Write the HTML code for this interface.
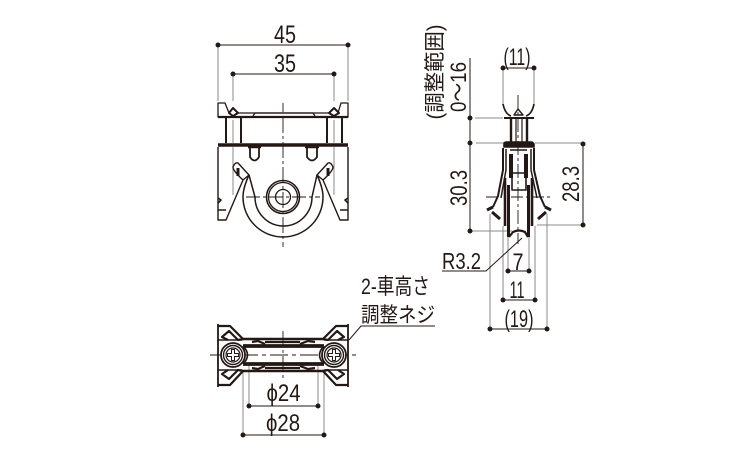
<!DOCTYPE html>
<html><head><meta charset="utf-8"><style>
html,body{margin:0;padding:0;background:#fff}
svg{display:block}
text{font-family:"Liberation Sans","Noto Sans CJK JP",sans-serif;fill:#231815}
</style></head><body>
<svg width="750" height="450" viewBox="0 0 750 450" xmlns="http://www.w3.org/2000/svg">
<defs>
<g id="screw">
<circle r="12" fill="#fff" stroke="#231815" stroke-width="1.8"/>
<circle r="9.500" fill="none" stroke="#231815" stroke-width="1.400"/>
<circle r="7" fill="none" stroke="#231815" stroke-width="1.200"/>
<path d="M-5.500 -1.500H-1.500V-5.500H1.500V-1.500H5.500V1.500H1.500V5.500H-1.500V1.500H-5.500Z" fill="#fff" stroke="#231815" stroke-width="1"/>
</g>
</defs>

<!-- grey extension lines -->
<g stroke="#8c8a88" stroke-width="1" fill="none">
<path d="M218 45V101M348 45V101M233 74V101M334 74V101"/>
<path d="M233 120V143M334 120V143M233 147V195M334 147V195"/>
<path d="M249 364V406M318 364V406M243 371V435M324 371V435"/>
<path d="M503 68V104M534 68V104"/>
<path d="M475 118H503M476 143H503M535 143H583M537 225H583M472 231H512"/>
<path d="M508 232V271M529 232V271M503 226V300M535 226V300M490 214V329M547 214V329"/>
</g>

<!-- black dimension lines -->
<g stroke="#231815" stroke-width="1" fill="none">
<path d="M218 45H348M233 74H334M249 406H318M243 435H324M503 68H534"/>
<path d="M470 58V231M583 144V225M508 271H529M503 300H535M490 329H547"/>
<path d="M442 271H486L522 238M435 326H361L349 340" stroke-width="1"/>
</g>
<g fill="#231815">
<circle cx="218" cy="45" r="2.500"/><circle cx="348" cy="45" r="2.500"/>
<circle cx="233" cy="74" r="2.500"/><circle cx="334" cy="74" r="2.500"/>
<circle cx="249" cy="406" r="2.500"/><circle cx="318" cy="406" r="2.500"/>
<circle cx="243" cy="435" r="2.500"/><circle cx="324" cy="435" r="2.500"/>
<circle cx="503" cy="68" r="2.500"/><circle cx="534" cy="68" r="2.500"/>
<circle cx="470" cy="118" r="2.500"/><circle cx="470" cy="143" r="2.500"/><circle cx="470" cy="231" r="2.500"/>
<circle cx="583" cy="144" r="2.500"/><circle cx="583" cy="225" r="2.500"/>
<circle cx="508" cy="271" r="2.500"/><circle cx="529" cy="271" r="2.500"/>
<circle cx="503" cy="300" r="2.500"/><circle cx="535" cy="300" r="2.500"/>
<circle cx="490" cy="329" r="2.500"/><circle cx="547" cy="329" r="2.500"/>
</g>

<!-- FRONT VIEW -->
<g fill="none" stroke="#231815" stroke-linejoin="round">
<path d="M283 103V112M283 117V247" stroke-width=".9" stroke-dasharray="16 3 3 3"/>
<path d="M246 197H320" stroke-width=".9" stroke-dasharray="14 3 3 3"/>
<path d="M218 117V103H225L229 113H237L239 113H328L338 113L341 103H348V117Z" stroke-width="1.300"/>
<path d="M218 117H348" stroke-width="2.200"/>
<path d="M253 116L255 113H313L315 116" stroke-width="1.300"/>
<path d="M229 113L233 108L238 113L233 116Z" stroke-width="2" fill="#fff"/>
<path d="M329 113L334 108L339 113L334 116Z" stroke-width="2" fill="#fff"/>
<path d="M226 118V143M241 118V143M327 118V143M342 118V143" stroke-width="2"/>
<path d="M218 145H348" stroke-width="3.400"/>
<path d="M218 147V220H226L243 180L249 175L238 163Q235 162 233 167Q233 171 243 180M348 147V220H340L323 180L317 175L328 163Q331 162 333 167Q333 171 323 180" stroke-width="1.400"/>
<path d="M250 147V157Q254.500 164 259 157V147M307 147V157Q312 164 317 157V147" stroke-width="1.800"/>
<path d="M248 147H261M305 147H319" stroke-width="2.400"/>
<path d="M238 176V168M328 176V168" stroke-width="3"/>
<path d="M243 197A40 40 0 0 0 323 197Q323 188 317 175M243 197Q243 188 249 175" stroke-width="1.500"/>
<path d="M249 175L255 197A28.500 29 0 0 0 312 197L317 175" stroke-width="1.500"/>
<circle cx="283" cy="197" r="16.500" stroke-width="1.600"/>
<circle cx="283" cy="197" r="14.500" stroke-width="1.300"/>
<circle cx="283" cy="197" r="7.500" stroke-width="1.300"/>
<path d="M218 198L221 200L218 203M348 198L345 200L348 203" stroke-width="1.600"/>
<path d="M218 210H226M348 210H340" stroke-width="1.400"/>
</g>

<!-- BOTTOM VIEW -->
<g fill="none" stroke="#231815" stroke-linejoin="round">
<path d="M210 355H357" stroke-width=".9" stroke-dasharray="18 4 4 4"/>
<path d="M283 331V379" stroke-width=".9" stroke-dasharray="16 3 3 3"/>
<path d="M218 324V387M348 324V387" stroke-width="1.800"/>
<path d="M218 340H242M348 340H324M218 370H242M348 370H324" stroke-width="1.600"/>
<path d="M242 339H324M242 371H324" stroke-width="2.400"/>
<path d="M218 326H230L243 339L238 340L229 331L222 337L228 340M348 326H336L323 339L328 340L337 331L344 337L338 340" stroke-width="2.200"/>
<path d="M218 385H230L243 371L238 370L229 379L222 374L228 370M348 385H336L323 371L328 370L337 379L344 374L338 370" stroke-width="2.200"/>
<path d="M243 346H324M243 364H324" stroke-width="3.800"/>
<path d="M252 342L258 341L265 344M300 344L308 341L315 342M252 368L258 369L265 366M300 366L308 369L315 368" stroke-width="2.200"/>
<path d="M265 342H300M265 368H300" stroke-width="2.200"/>
<path d="M243 346Q252 355 243 364M324 346Q315 355 324 364" stroke-width="1.600"/>
<use href="#screw" x="233" y="355"/>
<use href="#screw" x="334" y="355"/>
</g>

<!-- SIDE VIEW -->
<g fill="none" stroke="#231815" stroke-linejoin="round">
<path d="M518 95V244" stroke-width=".9" stroke-dasharray="14 3 3 3"/>
<path d="M486 197H499M511 197H551" stroke-width=".9" stroke-dasharray="12 3 3 3"/>
<path d="M503 104Q505 114 511 116M534 104Q532 114 526 116" stroke-width="1.700"/>
<path d="M504 118H534" stroke-width="2"/>
<path d="M514 115L518 109L523 115Z" stroke-width="1.400"/>
<path d="M511 118V143M527 118V143" stroke-width="2.400"/>
<path d="M516 118V143M522 118V143" stroke-width="1.200"/>
<path d="M504 147V143L506 142H532L534 144V147Z" stroke-width="1.600" fill="#231815"/>
<path d="M503 148V170L498 196L493 207M534 148V170L540 196L545 207" stroke-width="2"/>
<path d="M487 210L493 207M551 210L545 207" stroke-width="3"/>
<path d="M492 212L500 219M546 212L538 219" stroke-width="3"/>
<path d="M506 149V170L501 198M531 149V170L537 198" stroke-width="1.500"/>
<path d="M505 178V226M532 178V226" stroke-width="2.600"/>
<path d="M511 154V178M526 154V178" stroke-width="4"/>
<path d="M510 150H527" stroke-width="1.600"/>
<path d="M512 172V190H526V172M512 173H526" stroke-width="1.600"/>
<path d="M508.500 185V237M528.500 185V237" stroke-width="3"/>
<path d="M509 237L513 232Q519 229 525 232L528 237" stroke-width="2.200"/>
</g>

<!-- TEXT -->
<text x="285" y="43" font-size="25" text-anchor="middle" textLength="22" lengthAdjust="spacingAndGlyphs">45</text>
<text x="285" y="72" font-size="25" text-anchor="middle" textLength="22" lengthAdjust="spacingAndGlyphs">35</text>
<text x="283.500" y="401" font-size="24" text-anchor="middle" textLength="34" lengthAdjust="spacingAndGlyphs">ϕ24</text>
<text x="283" y="431" font-size="24" text-anchor="middle" textLength="34" lengthAdjust="spacingAndGlyphs">ϕ28</text>
<text x="517" y="65" font-size="24" text-anchor="middle" textLength="27" lengthAdjust="spacingAndGlyphs">(11)</text>
<text x="442" y="269" font-size="23" textLength="39" lengthAdjust="spacingAndGlyphs">R3.2</text>
<text x="518" y="270" font-size="24" text-anchor="middle" textLength="11" lengthAdjust="spacingAndGlyphs">7</text>
<text x="517" y="298" font-size="24" text-anchor="middle" textLength="15" lengthAdjust="spacingAndGlyphs">11</text>
<text x="519" y="327" font-size="24" text-anchor="middle" textLength="29" lengthAdjust="spacingAndGlyphs">(19)</text>
<text transform="translate(467 188) rotate(-90)" font-size="24" text-anchor="middle" textLength="36" lengthAdjust="spacingAndGlyphs">30.3</text>
<text transform="translate(579 184) rotate(-90)" font-size="24" text-anchor="middle" textLength="36" lengthAdjust="spacingAndGlyphs">28.3</text>
<text transform="translate(466 87) rotate(-90)" font-size="22" text-anchor="middle" textLength="50" lengthAdjust="spacingAndGlyphs">0～16</text>
<text transform="translate(442 72) rotate(-90)" font-size="21" text-anchor="middle" textLength="95" lengthAdjust="spacingAndGlyphs">(調整範囲)</text>
<text x="361" y="294" font-size="22" textLength="69" lengthAdjust="spacingAndGlyphs">2-車高さ</text>
<text x="361" y="322" font-size="21" textLength="74" lengthAdjust="spacingAndGlyphs">調整ネジ</text>
</svg>
</body></html>
